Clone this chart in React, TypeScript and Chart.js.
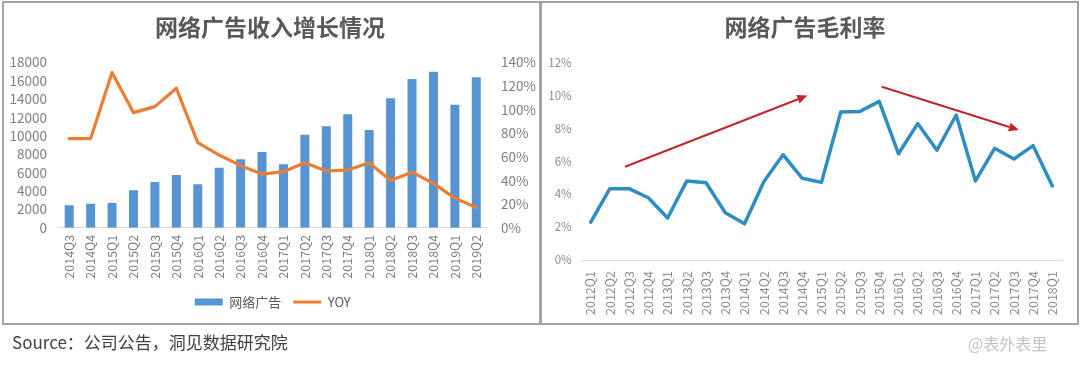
import React, { useEffect, useRef } from "react";
import { Chart, registerables } from "chart.js";

Chart.register(...registerables);

const FONT = "'Noto Sans CJK SC', 'Noto Sans', sans-serif";

// ---- Left chart data ----
const revenueCategories = [
  "2014Q3", "2014Q4", "2015Q1", "2015Q2", "2015Q3", "2015Q4", "2016Q1", "2016Q2", "2016Q3", "2016Q4",
  "2017Q1", "2017Q2", "2017Q3", "2017Q4", "2018Q1", "2018Q2", "2018Q3", "2018Q4", "2019Q1", "2019Q2",
];
const adRevenue = [
  2430, 2610, 2690, 4070, 4970, 5730, 4720, 6530, 7440, 8240,
  6900, 10120, 11030, 12340, 10630, 14080, 16190, 16980, 13390, 16370,
];
const yoyGrowth = [
  75.4, 75.4, 131.3, 97.4, 102.5, 118, 72, 61.5, 52.5, 45.4,
  47.4, 55, 48, 48.8, 55, 40, 47, 37.5, 25, 17.2,
];
const revenueTicks = { min: 0, max: 18000, step: 2000 };
const yoyTicks = { min: 0, max: 140, step: 20 };

// ---- Right chart data ----
const marginCategories = [
  "2012Q1", "2012Q2", "2012Q3", "2012Q4", "2013Q1", "2013Q2", "2013Q3", "2013Q4",
  "2014Q1", "2014Q2", "2014Q3", "2014Q4", "2015Q1", "2015Q2", "2015Q3", "2015Q4",
  "2016Q1", "2016Q2", "2016Q3", "2016Q4", "2017Q1", "2017Q2", "2017Q3", "2017Q4", "2018Q1",
];
const grossMargin = [
  2.29, 4.33, 4.33, 3.78, 2.55, 4.8, 4.69, 2.87,
  2.2, 4.75, 6.39, 4.96, 4.71, 8.98, 9.02, 9.63,
  6.45, 8.28, 6.66, 8.8, 4.8, 6.78, 6.13, 6.94, 4.49,
];
const marginTicks = { min: 0, max: 12, step: 2 };
// trend arrows in data coordinates: [category index, value]
const arrowUpFrom = [1.79, 5.66];
const arrowUpTo = [11.26, 9.98];
const arrowDownFrom = [15.13, 10.52];
const arrowDownTo = [22.26, 7.89];

const tickColor = "#7f7f7f";
const titleColor = "#595959";

const arrowPlugin = {
  id: "trendArrows",
  afterDatasetsDraw(chart: any) {
    const xs = chart.scales.x;
    const ys = chart.scales.y;
    const ctx = chart.ctx;
    const arrows = [
      [arrowUpFrom, arrowUpTo],
      [arrowDownFrom, arrowDownTo],
    ];
    ctx.save();
    for (const [a, b] of arrows) {
      const x1 = xs.getPixelForValue(a[0]);
      const y1 = ys.getPixelForValue(a[1]);
      const x2 = xs.getPixelForValue(b[0]);
      const y2 = ys.getPixelForValue(b[1]);
      const ang = Math.atan2(y2 - y1, x2 - x1);
      const headLen = 10;
      const headW = 4.5;
      const bx = x2 - headLen * Math.cos(ang);
      const by = y2 - headLen * Math.sin(ang);
      ctx.strokeStyle = "#c3262a";
      ctx.fillStyle = "#c3262a";
      ctx.lineWidth = 2;
      ctx.beginPath();
      ctx.moveTo(x1, y1);
      ctx.lineTo(bx, by);
      ctx.stroke();
      ctx.beginPath();
      ctx.moveTo(x2, y2);
      ctx.lineTo(bx + headW * Math.sin(ang), by - headW * Math.cos(ang));
      ctx.lineTo(bx - headW * Math.sin(ang), by + headW * Math.cos(ang));
      ctx.closePath();
      ctx.fill();
    }
    ctx.restore();
  },
};

function RevenueChart() {
  const ref = useRef<HTMLCanvasElement | null>(null);
  useEffect(() => {
    if (!ref.current) return;
    const chart = new Chart(ref.current, {
      data: {
        labels: revenueCategories,
        datasets: [
          {
            type: "line",
            label: "YOY",
            data: yoyGrowth,
            borderColor: "#ed7d31",
            backgroundColor: "#ed7d31",
            borderWidth: 3.2,
            pointRadius: 0,
            borderJoinStyle: "round",
            borderCapStyle: "round",
            yAxisID: "y1",
            order: 1,
          },
          {
            type: "bar",
            label: "网络广告",
            data: adRevenue,
            backgroundColor: "#5694d2",
            yAxisID: "y",
            barPercentage: 0.42,
            categoryPercentage: 1,
            order: 2,
          },
        ],
      } as any,
      options: {
        responsive: false,
        animation: false,
        layout: { padding: { left: 0, right: 0, top: 0, bottom: 21.5 } },
        plugins: {
          title: {
            display: true,
            text: "网络广告收入增长情况",
            color: titleColor,
            font: { size: 23, weight: "bold", family: FONT },
            padding: { top: 13, bottom: 21.7 },
          },
          legend: {
            position: "bottom",
            fullSize: false,
            reverse: true,
            labels: {
              usePointStyle: true,
              pointStyleWidth: 28,
              boxHeight: 7,
              padding: 12,
              color: titleColor,
              font: { size: 13, family: FONT },
              generateLabels(chart: any) {
                const items = (Chart.defaults.plugins.legend.labels as any).generateLabels(chart);
                for (const it of items) {
                  if (it.text === "YOY") {
                    it.pointStyle = "line";
                    it.lineWidth = 3;
                    it.strokeStyle = "#ed7d31";
                  } else {
                    it.pointStyle = "rect";
                    it.lineWidth = 0;
                    it.strokeStyle = "rgba(0,0,0,0)";
                    it.fillStyle = "#5694d2";
                  }
                }
                return items;
              },
            },
          },
          tooltip: { enabled: false },
        },
        scales: {
          x: {
            grid: { display: false, drawTicks: false },
            border: { display: true, color: "#d9d9d9", width: 1 },
            ticks: {
              autoSkip: false,
              minRotation: 90,
              maxRotation: 90,
              padding: 7,
              color: tickColor,
              font: { size: 12.5, family: FONT },
            },
            afterFit(s: any) {
              s.height = 55.8;
            },
          },
          y: {
            position: "left",
            min: revenueTicks.min,
            max: revenueTicks.max,
            grid: { display: false, drawTicks: false },
            border: { display: false },
            ticks: {
              autoSkip: false,
              stepSize: revenueTicks.step,
              padding: 11.5,
              color: tickColor,
              font: { size: 13.5, family: FONT },
              callback: (v: any) => String(v),
            },
            afterFit(s: any) {
              s.width = 58.5;
            },
          },
          y1: {
            position: "right",
            min: yoyTicks.min,
            max: yoyTicks.max,
            grid: { display: false, drawTicks: false },
            border: { display: false },
            ticks: {
              autoSkip: false,
              stepSize: yoyTicks.step,
              padding: 14,
              color: tickColor,
              font: { size: 13.5, family: FONT },
              callback: (v: any) => `${v}%`,
            },
            afterFit(s: any) {
              s.width = 53;
            },
          },
        },
      } as any,
    });
    return () => chart.destroy();
  }, []);
  return <canvas ref={ref} width={540} height={340} style={{ position: "absolute", left: 0, top: 0 }} />;
}

function MarginChart() {
  const ref = useRef<HTMLCanvasElement | null>(null);
  useEffect(() => {
    if (!ref.current) return;
    const chart = new Chart(ref.current, {
      type: "line",
      data: {
        labels: marginCategories,
        datasets: [
          {
            label: "网络广告毛利率",
            data: grossMargin,
            borderColor: "#2f8dc1",
            borderWidth: 3.5,
            pointRadius: 0,
            borderJoinStyle: "round",
            borderCapStyle: "round",
          },
        ],
      },
      options: {
        responsive: false,
        animation: false,
        layout: { padding: { left: 0, right: 18, top: 0, bottom: 20 } },
        plugins: {
          title: {
            display: true,
            text: "网络广告毛利率",
            color: titleColor,
            font: { size: 23, weight: "bold", family: FONT },
            padding: { top: 13, bottom: 21.7 },
          },
          legend: { display: false },
          tooltip: { enabled: false },
        },
        scales: {
          x: {
            offset: true,
            grid: { display: false, drawTicks: false },
            border: { display: true, color: "#d9d9d9", width: 1 },
            ticks: {
              autoSkip: false,
              minRotation: 90,
              maxRotation: 90,
              padding: 11,
              color: "#8c8c8c",
              font: { size: 12.5, family: FONT },
            },
            afterFit(s: any) {
              s.height = 60;
            },
          },
          y: {
            min: marginTicks.min,
            max: marginTicks.max,
            grid: { display: false, drawTicks: false },
            border: { display: false },
            ticks: {
              autoSkip: false,
              stepSize: marginTicks.step,
              padding: 9.3,
              color: "#8c8c8c",
              font: { size: 11.5, family: FONT },
              callback: (v: any) => `${v}%`,
            },
            afterFit(s: any) {
              s.width = 33;
            },
          },
        },
      } as any,
      plugins: [arrowPlugin],
    });
    return () => chart.destroy();
  }, []);
  return <canvas ref={ref} width={532} height={340} style={{ position: "absolute", left: 0, top: 0 }} />;
}

export default function App() {
  return (
    <div
      style={{
        position: "absolute",
        left: 0,
        top: 0,
        width: 1080,
        height: 366,
        background: "#ffffff",
        overflow: "hidden",
        fontFamily: FONT,
      }}
    >
      <div style={{ position: "absolute", left: 2, top: 1, width: 535, height: 320, border: "2px solid #a3a3a3" }} />
      <div style={{ position: "absolute", left: 540, top: 1, width: 535, height: 320, border: "2px solid #a3a3a3" }} />
      <div style={{ position: "absolute", left: 0, top: 0, width: 540, height: 340 }}>
        <RevenueChart />
      </div>
      <div style={{ position: "absolute", left: 548, top: 0, width: 532, height: 340 }}>
        <MarginChart />
      </div>
      <div
        style={{
          position: "absolute",
          left: 12,
          top: 330,
          fontSize: 17,
          lineHeight: "24px",
          color: "#404040",
          whiteSpace: "nowrap",
        }}
      >
        Source：公司公告，洞见数据研究院
      </div>
      <div
        style={{
          position: "absolute",
          left: 968,
          top: 331,
          fontSize: 16,
          lineHeight: "24px",
          color: "#c4c4c4",
          whiteSpace: "nowrap",
        }}
      >
        @表外表里
      </div>
    </div>
  );
}
